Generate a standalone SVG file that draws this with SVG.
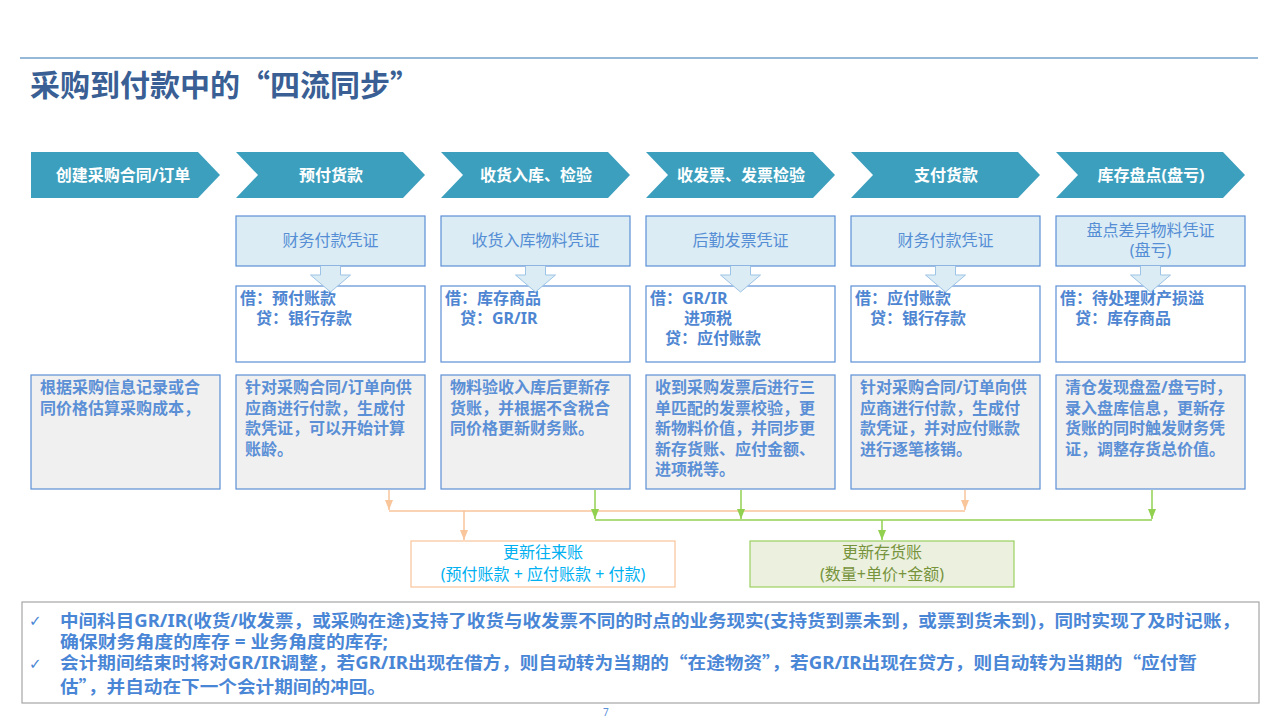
<svg xmlns="http://www.w3.org/2000/svg" width="1280" height="720" viewBox="0 0 1280 720">
<style>
text{font-family:"Noto Sans","Noto Sans CJK SC",sans-serif}
.q{font-family:"Noto Sans CJK SC",sans-serif}
.title{font-size:30px;font-weight:bold;fill:#3a5f94}
.chev{fill:#3d9fbe}
.chevt{font-size:16px;font-weight:bold;fill:#ffffff;text-anchor:middle}
.hdr{fill:#dbecf4;stroke:#5b8fd6;stroke-width:1.2}
.hdrt{font-size:16px;fill:#558ed5;text-anchor:middle}
.ent{fill:#ffffff;stroke:#5b8fd6;stroke-width:1.2}
.entt{font-size:16px;font-weight:bold;fill:#4f86d2}
.barf{fill:#dbecf4}
.bars{fill:none;stroke:#9dc3e6;stroke-width:1}
.desc{fill:#f0f0f0;stroke:#5b8fd6;stroke-width:1.2}
.desct{font-size:16px;font-weight:bold;fill:#5b8fd6}
.or{fill:none;stroke:#f9c59b;stroke-width:1.5}
.gr{fill:none;stroke:#92d050;stroke-width:1.5}
.note{font-size:17px;font-weight:bold;fill:#4a86d6}
.chk{font-family:"DejaVu Sans",sans-serif;font-size:15px;fill:#4a86d6}
</style>
<defs>
<marker id="ao" markerUnits="userSpaceOnUse" markerWidth="10" markerHeight="10" viewBox="0 0 10 10" refX="10" refY="5" orient="auto"><path d="M0,1 L10,5 L0,9 z" fill="#f9c59b"/></marker>
<marker id="ag" markerUnits="userSpaceOnUse" markerWidth="10" markerHeight="10" viewBox="0 0 10 10" refX="10" refY="5" orient="auto"><path d="M0,1 L10,5 L0,9 z" fill="#92d050"/></marker>
</defs>
<rect width="1280" height="720" fill="#ffffff"/>
<line x1="20" y1="58" x2="1258" y2="58" stroke="#2e75b6" stroke-width="1.2"/>
<text class="title" x="30" y="96">采购到付款中的<tspan class="q">“</tspan>四流同步<tspan class="q">”</tspan></text>

<g id="step1">
<polygon class="chev" points="31,152 198,152 220,175 198,198 31,198"/>
<text class="chevt" x="123" y="181">创建采购合同/订单</text>
<rect class="desc" x="31" y="375" width="189" height="114"/>
<text class="desct" x="40" y="393">根据采购信息记录或合</text>
<text class="desct" x="40" y="414">同价格估算采购成本，</text>
</g>

<g id="step2">
<polygon class="chev" points="236,152 403,152 425,175 403,198 236,198 258,175"/>
<text class="chevt" x="331" y="181">预付货款</text>
<rect class="hdr" x="236" y="216" width="189" height="50"/>
<text class="hdrt" x="330.5" y="246">财务付款凭证</text>
<rect class="ent" x="236" y="286" width="189" height="76"/>
<text class="entt" x="240" y="304">借：预付账款</text>
<text class="entt" x="256" y="324">贷：银行存款</text>
<polygon class="barf" points="320.5,266 340.5,266 340.5,275 350.5,275 330.5,292 310.5,275 320.5,275"/>
<polyline class="bars" points="340.5,266 340.5,275 350.5,275 330.5,292 310.5,275 320.5,275 320.5,266"/>
<rect class="desc" x="236" y="375" width="189" height="114"/>
<text class="desct" x="245" y="393">针对采购合同/订单向供</text>
<text class="desct" x="245" y="414">应商进行付款，生成付</text>
<text class="desct" x="245" y="434">款凭证，可以开始计算</text>
<text class="desct" x="245" y="455">账龄。</text>
</g>

<g id="step3">
<polygon class="chev" points="441,152 608,152 630,175 608,198 441,198 463,175"/>
<text class="chevt" x="536" y="181">收货入库、检验</text>
<rect class="hdr" x="441" y="216" width="189" height="50"/>
<text class="hdrt" x="535.5" y="246">收货入库物料凭证</text>
<rect class="ent" x="441" y="286" width="189" height="76"/>
<text class="entt" x="445" y="304">借：库存商品</text>
<text class="entt" x="460" y="324">贷：GR/IR</text>
<polygon class="barf" points="525.5,266 545.5,266 545.5,275 555.5,275 535.5,292 515.5,275 525.5,275"/>
<polyline class="bars" points="545.5,266 545.5,275 555.5,275 535.5,292 515.5,275 525.5,275 525.5,266"/>
<rect class="desc" x="441" y="375" width="189" height="114"/>
<text class="desct" x="450" y="393">物料验收入库后更新存</text>
<text class="desct" x="450" y="414">货账，并根据不含税合</text>
<text class="desct" x="450" y="434">同价格更新财务账。</text>
</g>

<g id="step4">
<polygon class="chev" points="646,152 813,152 835,175 813,198 646,198 668,175"/>
<text class="chevt" x="741" y="181">收发票、发票检验</text>
<rect class="hdr" x="646" y="216" width="189" height="50"/>
<text class="hdrt" x="740.5" y="246">后勤发票凭证</text>
<rect class="ent" x="646" y="286" width="189" height="76"/>
<text class="entt" x="650" y="304">借：GR/IR</text>
<text class="entt" x="684" y="324">进项税</text>
<text class="entt" x="665" y="344">贷：应付账款</text>
<polygon class="barf" points="730.5,266 750.5,266 750.5,275 760.5,275 740.5,292 720.5,275 730.5,275"/>
<polyline class="bars" points="750.5,266 750.5,275 760.5,275 740.5,292 720.5,275 730.5,275 730.5,266"/>
<rect class="desc" x="646" y="375" width="189" height="114"/>
<text class="desct" x="655" y="393">收到采购发票后进行三</text>
<text class="desct" x="655" y="414">单匹配的发票校验，更</text>
<text class="desct" x="655" y="434">新物料价值，并同步更</text>
<text class="desct" x="655" y="455">新存货账、应付金额、</text>
<text class="desct" x="655" y="475">进项税等。</text>
</g>

<g id="step5">
<polygon class="chev" points="851,152 1018,152 1040,175 1018,198 851,198 873,175"/>
<text class="chevt" x="946" y="181">支付货款</text>
<rect class="hdr" x="851" y="216" width="189" height="50"/>
<text class="hdrt" x="945.5" y="246">财务付款凭证</text>
<rect class="ent" x="851" y="286" width="189" height="76"/>
<text class="entt" x="855" y="304">借：应付账款</text>
<text class="entt" x="870" y="324">贷：银行存款</text>
<polygon class="barf" points="935.5,266 955.5,266 955.5,275 965.5,275 945.5,292 925.5,275 935.5,275"/>
<polyline class="bars" points="955.5,266 955.5,275 965.5,275 945.5,292 925.5,275 935.5,275 935.5,266"/>
<rect class="desc" x="851" y="375" width="189" height="114"/>
<text class="desct" x="860" y="393">针对采购合同/订单向供</text>
<text class="desct" x="860" y="414">应商进行付款，生成付</text>
<text class="desct" x="860" y="434">款凭证，并对应付账款</text>
<text class="desct" x="860" y="455">进行逐笔核销。</text>
</g>

<g id="step6">
<polygon class="chev" points="1056,152 1223,152 1245,175 1223,198 1056,198 1078,175"/>
<text class="chevt" x="1151" y="181">库存盘点(盘亏)</text>
<rect class="hdr" x="1056" y="216" width="189" height="50"/>
<text class="hdrt" x="1150.5" y="236">盘点差异物料凭证</text>
<text class="hdrt" x="1150.5" y="256">(盘亏)</text>
<rect class="ent" x="1056" y="286" width="189" height="76"/>
<text class="entt" x="1060" y="304">借：待处理财产损溢</text>
<text class="entt" x="1075" y="324">贷：库存商品</text>
<polygon class="barf" points="1140.5,266 1160.5,266 1160.5,275 1170.5,275 1150.5,292 1130.5,275 1140.5,275"/>
<polyline class="bars" points="1160.5,266 1160.5,275 1170.5,275 1150.5,292 1130.5,275 1140.5,275 1140.5,266"/>
<rect class="desc" x="1056" y="375" width="189" height="114"/>
<text class="desct" x="1065" y="393">清仓发现盘盈/盘亏时，</text>
<text class="desct" x="1065" y="414">录入盘库信息，更新存</text>
<text class="desct" x="1065" y="434">货账的同时触发财务凭</text>
<text class="desct" x="1065" y="455">证，调整存货总价值。</text>
</g>

<g id="connectors">
<path class="or" d="M389,490 V510" marker-end="url(#ao)"/>
<path class="or" d="M965,490 V510" marker-end="url(#ao)"/>
<path class="or" d="M389,511 H965"/>
<path class="or" d="M464,511 V540" marker-end="url(#ao)"/>
<path class="gr" d="M595,490 V519" marker-end="url(#ag)"/>
<path class="gr" d="M741,490 V519" marker-end="url(#ag)"/>
<path class="gr" d="M1152,490 V519" marker-end="url(#ag)"/>
<path class="gr" d="M595,520 H1152"/>
<path class="gr" d="M882,520 V540" marker-end="url(#ag)"/>
</g>

<g id="update-ar">
<rect x="411" y="541" width="264" height="46" fill="#ffffff" stroke="#f9c59b" stroke-width="1.2"/>
<text x="543" y="558" font-size="16" fill="#00b0f0" text-anchor="middle">更新往来账</text>
<text x="543" y="580" font-size="16" fill="#00b0f0" text-anchor="middle">(预付账款 + 应付账款 + 付款)</text>
</g>

<g id="update-inv">
<rect x="750" y="541" width="264" height="46" fill="#ebf1de" stroke="#9bd060" stroke-width="1.2"/>
<text x="882" y="558" font-size="16" fill="#77933c" text-anchor="middle">更新存货账</text>
<text x="882" y="580" font-size="16" fill="#77933c" text-anchor="middle">(数量+单价+金额)</text>
</g>

<g id="notes">
<rect x="22" y="602" width="1237" height="101" fill="#ffffff" stroke="#a6a6a6" stroke-width="1.2"/>
<text class="chk" x="29" y="626">✓</text>
<text class="note" x="60" y="627" textLength="1180" lengthAdjust="spacingAndGlyphs">中间科目GR/IR(收货/收发票，或采购在途)支持了收货与收发票不同的时点的业务现实(支持货到票未到，或票到货未到)，同时实现了及时记账，</text>
<text class="note" x="60" y="648" textLength="328" lengthAdjust="spacingAndGlyphs">确保财务角度的库存 = 业务角度的库存;</text>
<text class="chk" x="29" y="669">✓</text>
<text class="note" x="60" y="669" textLength="1137" lengthAdjust="spacingAndGlyphs">会计期间结束时将对GR/IR调整，若GR/IR出现在借方，则自动转为当期的<tspan class="q">“</tspan>在途物资<tspan class="q">”</tspan>，若GR/IR出现在贷方，则自动转为当期的<tspan class="q">“</tspan>应付暂</text>
<text class="note" x="60" y="693" textLength="326" lengthAdjust="spacingAndGlyphs">估<tspan class="q">”</tspan>，并自动在下一个会计期间的冲回。</text>
</g>

<text x="603" y="716" font-size="10" fill="#5b8fd6">7</text>
</svg>
